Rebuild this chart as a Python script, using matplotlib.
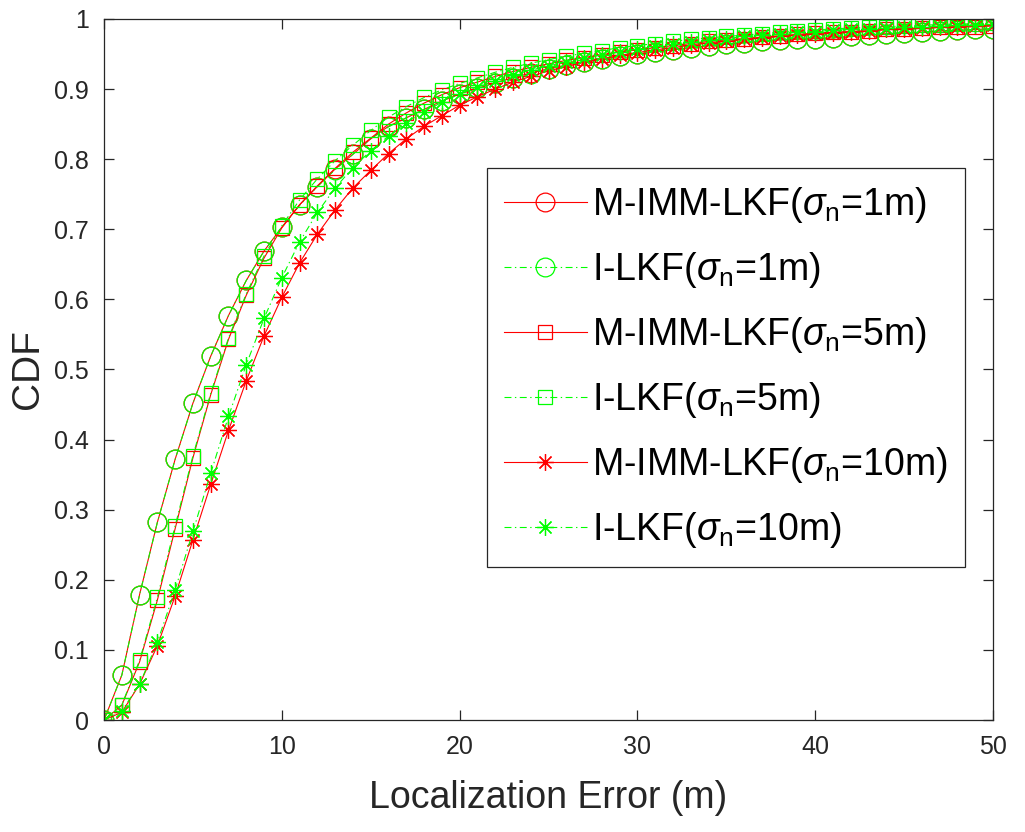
import matplotlib
matplotlib.use("Agg")
import matplotlib.pyplot as plt

plt.rcParams['font.family'] = ['Liberation Sans', 'DejaVu Sans']
plt.rcParams['mathtext.fontset'] = 'custom'
plt.rcParams['mathtext.rm'] = 'Liberation Sans'
plt.rcParams['mathtext.it'] = 'Liberation Sans:italic'
plt.rcParams['lines.scale_dashes'] = False

# ---- data ----
x_err = list(range(51))

mimm_1 = [0, 0.064, 0.179, 0.282, 0.372, 0.452, 0.519, 0.577, 0.627, 0.669,
          0.703, 0.735, 0.761, 0.786, 0.807, 0.829, 0.847, 0.859, 0.871, 0.883,
          0.893, 0.901, 0.909, 0.916, 0.923, 0.929, 0.934, 0.939, 0.943, 0.947,
          0.950, 0.953, 0.956, 0.959, 0.962, 0.964, 0.966, 0.968, 0.970, 0.971,
          0.972, 0.973, 0.975, 0.977, 0.979, 0.980, 0.981, 0.983, 0.984, 0.985,
          0.986]
ilkf_1 = [0, 0.064, 0.179, 0.282, 0.372, 0.452, 0.519, 0.577, 0.627, 0.669,
          0.703, 0.734, 0.761, 0.785, 0.807, 0.829, 0.846, 0.859, 0.871, 0.883,
          0.893, 0.901, 0.909, 0.916, 0.922, 0.929, 0.934, 0.939, 0.943, 0.947,
          0.950, 0.953, 0.956, 0.958, 0.962, 0.964, 0.966, 0.968, 0.970, 0.971,
          0.971, 0.973, 0.975, 0.977, 0.979, 0.980, 0.981, 0.983, 0.984, 0.985,
          0.986]
mimm_5 = [0, 0.021, 0.083, 0.171, 0.273, 0.374, 0.464, 0.543, 0.606, 0.659,
          0.702, 0.735, 0.762, 0.787, 0.810, 0.830, 0.850, 0.866, 0.880, 0.892,
          0.902, 0.910, 0.918, 0.925, 0.931, 0.936, 0.941, 0.945, 0.949, 0.953,
          0.956, 0.959, 0.962, 0.965, 0.968, 0.970, 0.972, 0.974, 0.976, 0.978,
          0.980, 0.981, 0.982, 0.983, 0.985, 0.986, 0.987, 0.988, 0.989, 0.989,
          0.990]
ilkf_5 = [0, 0.022, 0.085, 0.175, 0.277, 0.377, 0.466, 0.545, 0.608, 0.662,
          0.705, 0.742, 0.772, 0.798, 0.820, 0.841, 0.860, 0.875, 0.888, 0.899,
          0.908, 0.916, 0.924, 0.931, 0.937, 0.942, 0.947, 0.951, 0.955, 0.959,
          0.962, 0.965, 0.968, 0.971, 0.973, 0.975, 0.977, 0.979, 0.981, 0.983,
          0.984, 0.986, 0.987, 0.988, 0.989, 0.990, 0.991, 0.992, 0.993, 0.993,
          0.994]
mimm_10 = [0, 0.011, 0.051, 0.106, 0.177, 0.257, 0.336, 0.413, 0.484, 0.548,
           0.603, 0.652, 0.693, 0.728, 0.759, 0.784, 0.808, 0.829, 0.847, 0.862,
           0.877, 0.889, 0.900, 0.910, 0.918, 0.926, 0.932, 0.938, 0.943, 0.948,
           0.952, 0.956, 0.959, 0.963, 0.966, 0.968, 0.971, 0.973, 0.975, 0.977,
           0.979, 0.980, 0.982, 0.983, 0.985, 0.986, 0.987, 0.988, 0.989, 0.990,
           0.991]
ilkf_10 = [0, 0.013, 0.051, 0.111, 0.186, 0.269, 0.352, 0.433, 0.507, 0.573,
           0.631, 0.682, 0.724, 0.759, 0.788, 0.812, 0.833, 0.852, 0.868, 0.881,
           0.893, 0.903, 0.912, 0.920, 0.927, 0.933, 0.939, 0.944, 0.949, 0.953,
           0.957, 0.961, 0.964, 0.967, 0.970, 0.972, 0.975, 0.977, 0.979, 0.981,
           0.982, 0.984, 0.985, 0.986, 0.987, 0.988, 0.989, 0.990, 0.991, 0.992,
           0.993]

labels = [r'M-IMM-LKF($\sigma_{\rm n}$=1m)', r'I-LKF($\sigma_{\rm n}$=1m)',
          r'M-IMM-LKF($\sigma_{\rm n}$=5m)', r'I-LKF($\sigma_{\rm n}$=5m)',
          r'M-IMM-LKF($\sigma_{\rm n}$=10m)', r'I-LKF($\sigma_{\rm n}$=10m)']
x_ticks = [0, 10, 20, 30, 40, 50]
y_ticks = [0, 0.1, 0.2, 0.3, 0.4, 0.5, 0.6, 0.7, 0.8, 0.9, 1]
y_ticklabels = ['0', '0.1', '0.2', '0.3', '0.4', '0.5', '0.6', '0.7', '0.8', '0.9', '1']

# ---- figure ----
fig = plt.figure(figsize=(10.25, 8.32), dpi=100)
ax = fig.add_axes([0.1015, 0.1346, 0.8673, 0.8426])

RED = '#ff0000'
GREEN = '#00ff00'
DASHDOT = (0, (5, 2.5, 1, 2.5))
asterisk = (8, 2, 0)

series = [
    (mimm_1, RED, '-', 'o', 13.5),
    (ilkf_1, GREEN, DASHDOT, 'o', 13.5),
    (mimm_5, RED, '-', 's', 9.5),
    (ilkf_5, GREEN, DASHDOT, 's', 9.5),
    (mimm_10, RED, '-', asterisk, 12),
    (ilkf_10, GREEN, DASHDOT, asterisk, 12),
]
for (vals, col, ls, mk, ms), lab in zip(series, labels):
    ax.plot(x_err, vals, color=col, linestyle=ls, linewidth=0.8,
            marker=mk, markersize=ms, markerfacecolor='none',
            markeredgecolor=col, markeredgewidth=0.9, label=lab)

ax.set_xlim(0, 50)
ax.set_ylim(0, 1)
ax.set_xticks(x_ticks)
ax.set_yticks(y_ticks)
ax.set_yticklabels(y_ticklabels)

spine_col = '#262626'
for s in ax.spines.values():
    s.set_color(spine_col)
    s.set_linewidth(0.9)
ax.tick_params(direction='in', top=True, right=True, length=7, width=0.9,
               color=spine_col, labelsize=18, labelcolor='#262626')
ax.tick_params(axis='y', pad=11)
ax.tick_params(axis='x', pad=11)

ax.set_xlabel('Localization Error (m)', fontsize=27, color='#262626', labelpad=15)
ax.set_ylabel('CDF', fontsize=28, color='#262626', labelpad=6)

leg = ax.legend(loc='upper left', bbox_to_anchor=(0.431, 0.7875),
                borderaxespad=0, fontsize=27, handlelength=2.2,
                handletextpad=0.15, labelspacing=0.67, borderpad=0.45,
                fancybox=False, framealpha=1, edgecolor=spine_col)
leg.get_frame().set_linewidth(0.9)

fig.savefig('out.png', dpi=100, facecolor='white')
